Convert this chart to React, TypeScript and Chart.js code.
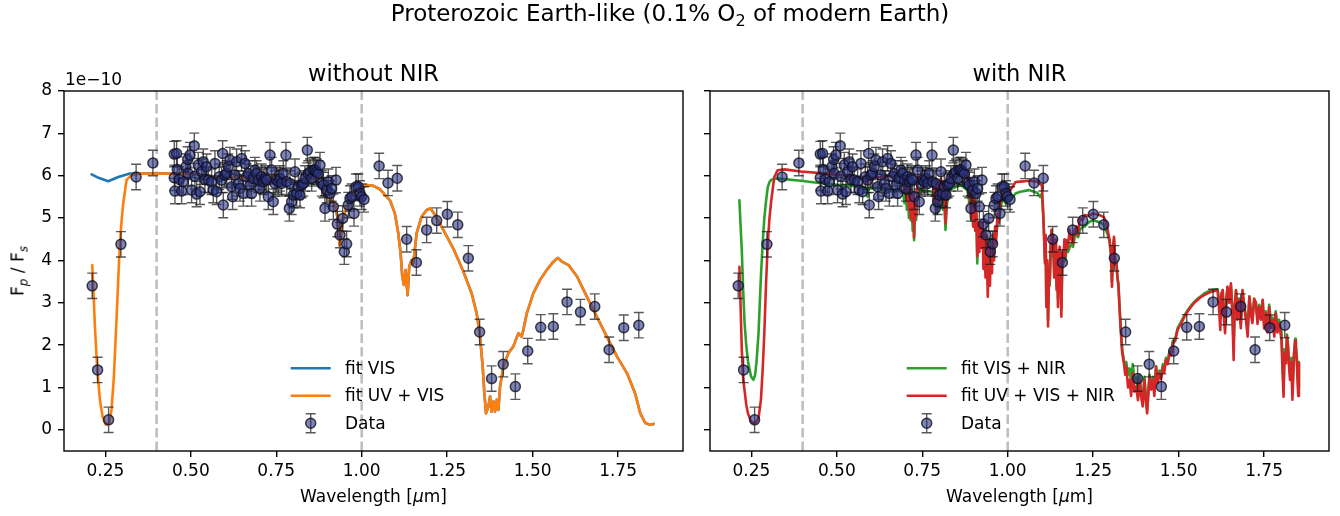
import React, { useEffect, useRef } from "react";
import { Chart, registerables } from "chart.js";
Chart.register(...registerables);

const FONT = '"DejaVu Sans", sans-serif';

// ---------- data (flux ratio in units of 1e-10) ----------
const DATA_WL = [
  0.2115, 0.2273, 0.2595, 0.2955, 0.340, 0.389,
  0.4516, 0.4584, 0.4536, 0.4516, 0.4604, 0.4662, 0.4731, 0.4779, 0.4857, 0.4906,
  0.4975, 0.4926, 0.5023, 0.5101, 0.5121, 0.5170, 0.5267, 0.5218, 0.5316, 0.5365,
  0.5413, 0.5462, 0.5511, 0.5609, 0.5657, 0.5706, 0.5755, 0.5833, 0.5901, 0.5931,
  0.5950, 0.5999, 0.6048, 0.6096, 0.6145, 0.6194, 0.6223, 0.6291, 0.6340, 0.6389,
  0.6438, 0.6487, 0.6535, 0.6584, 0.6633, 0.6682, 0.6730, 0.6779, 0.6828, 0.6877,
  0.6926, 0.6974, 0.7023, 0.7072, 0.7121, 0.7169, 0.7218, 0.7267, 0.7316, 0.7365,
  0.7413, 0.7462, 0.7511, 0.7560, 0.7609, 0.7657, 0.7706, 0.7784, 0.7804, 0.7882,
  0.7901, 0.7950, 0.7999, 0.8048, 0.8096, 0.8145, 0.8194, 0.8243, 0.8292, 0.8340,
  0.8409, 0.8438, 0.8487, 0.8536, 0.8585, 0.8633, 0.8682, 0.8731, 0.8779, 0.8828,
  0.8877, 0.8926, 0.8975, 0.9024, 0.9072, 0.9121, 0.9170, 0.9248, 0.9287, 0.9364,
  0.9443, 0.9491, 0.9559, 0.9608, 0.9657, 0.9706, 0.9774, 0.9832, 0.9901, 0.9950,
  0.9999, 1.0067,
  1.051, 1.077, 1.104, 1.1316, 1.160, 1.190, 1.2194, 1.2505, 1.281, 1.312, 1.345,
  1.380, 1.414, 1.4495, 1.4857, 1.5238, 1.5607, 1.6008, 1.640, 1.6818, 1.7237,
  1.7667, 1.8106,
];
const DATA_FLUX = [
  3.40, 1.415, 0.236, 4.38, 5.97, 6.30,
  6.51, 6.525, 5.637, 5.951, 6.148, 5.912, 5.637, 5.857, 6.211, 6.384,
  6.486, 6.053, 5.660, 6.706, 5.99, 5.566, 5.621, 6.25, 6.093, 6.329,
  5.912, 6.211, 5.896, 5.857, 5.660, 6.29, 5.621, 5.975, 5.896, 6.525,
  5.307, 6.014, 6.053, 6.211, 6.368, 5.739, 5.503, 6.014, 6.329, 5.818,
  5.700, 6.407, 5.582, 6.29, 5.975, 6.053, 5.778, 5.582, 5.936, 6.132,
  6.053, 5.896, 5.700, 5.975, 5.857, 5.936, 5.896, 5.503, 6.486, 6.132,
  5.385, 5.818, 5.896, 5.857, 5.936, 5.818, 6.053, 6.486, 5.857, 5.228,
  5.818, 5.385, 5.542, 6.093, 5.582, 5.739, 5.542, 5.778, 5.818, 5.936,
  6.604, 6.053, 6.093, 5.936, 6.132, 6.132, 6.093, 6.053, 6.25, 5.818,
  5.778, 5.228, 5.660, 5.857, 5.582, 5.700, 5.267, 5.896, 4.858, 4.599,
  4.992, 4.206, 4.387, 5.307, 5.464, 5.503, 5.110, 5.739, 5.739, 5.582,
  5.503, 5.440,
  6.23, 5.83, 5.94, 4.50, 3.95, 4.72, 4.94, 5.09, 4.84, 4.05, 2.31,
  1.21, 1.55, 1.02, 1.86, 2.42, 2.44, 3.02, 2.78, 2.91, 1.89,
  2.41, 2.47,
];
const DATA_ERR = 0.3; // half-length of every error bar

// fit UV + VIS (left panel, orange)
const FIT_LEFT_WL = [
  0.2117, 0.2146, 0.2195, 0.2263, 0.2341, 0.242, 0.2515, 0.2613, 0.268, 0.275,
  0.283, 0.2906, 0.296, 0.3023, 0.3121, 0.3267, 0.351, 0.41, 0.488, 0.5365,
  0.5853, 0.60, 0.624, 0.64, 0.6633, 0.7023, 0.722, 0.741, 0.761, 0.80,
  0.8145, 0.825, 0.839, 0.858, 0.878, 0.8926, 0.9072, 0.922, 0.9287, 0.935,
  0.9413, 0.946, 0.956, 0.9706, 0.9852, 1.0, 1.0145, 1.034, 1.0535, 1.0827,
  1.097, 1.107, 1.1138, 1.1187, 1.1235, 1.1284, 1.1343, 1.139, 1.146, 1.151,
  1.1606, 1.175, 1.19, 1.201, 1.2144, 1.2388, 1.2681, 1.2974, 1.3218, 1.3364,
  1.3462, 1.354, 1.3589, 1.3637, 1.3706, 1.3755, 1.38, 1.385, 1.39, 1.395,
  1.3999, 1.4048, 1.4145, 1.4291, 1.4437, 1.4584, 1.468, 1.473, 1.483, 1.502,
  1.522, 1.541, 1.561, 1.574, 1.586, 1.605, 1.63, 1.659, 1.688, 1.717,
  1.747, 1.776, 1.80, 1.815, 1.83, 1.844, 1.854,
];
const FIT_UVVIS = [
  3.89, 3.38, 2.44, 1.42, 0.71, 0.31, 0.12, 0.16, 0.47, 1.26,
  2.67, 4.09, 4.80, 5.35, 5.90, 6.02, 6.05, 6.05, 6.05, 6.01,
  5.97, 5.96, 5.97, 5.99, 5.91, 5.90, 5.86, 6.01, 5.98, 5.82,
  5.74, 5.80, 5.90, 5.94, 5.78, 5.54, 5.42, 5.34, 5.03, 4.36,
  4.72, 5.03, 5.26, 5.54, 5.66, 5.70, 5.78, 5.76, 5.68, 5.42,
  5.11, 4.64, 4.17, 3.62, 3.42, 3.77, 3.18, 3.85, 4.01, 3.93,
  4.64, 5.03, 5.19, 5.23, 5.07, 4.72, 4.28, 3.74, 3.22, 2.75,
  2.20, 1.49, 0.86, 0.39, 0.55, 0.79, 0.43, 0.67, 0.43, 0.71,
  0.47, 1.02, 1.49, 1.81, 1.97, 2.28, 2.20, 2.36, 2.75, 3.22,
  3.54, 3.77, 3.97, 4.06, 3.97, 3.89, 3.62, 3.14, 2.67, 2.20,
  1.73, 1.34, 0.86, 0.39, 0.16, 0.12, 0.14,
];
// fit VIS (left panel, blue): its own UV part, then identical to the orange fit from 0.351 µm
const FIT_VIS_UV_WL = [0.2097, 0.23, 0.2585, 0.2878, 0.322];
const FIT_VIS_UV = [6.03, 5.95, 5.87, 5.97, 6.05];
const FIT_VIS_JOIN = 0.351;

// right panel: fit VIS + NIR (green) and fit UV + VIS + NIR (red)
const FIT_RIGHT_WL = [
  0.215, 0.218, 0.222, 0.226, 0.230, 0.235, 0.240, 0.249, 0.256, 0.261,
  0.265, 0.271, 0.278, 0.283, 0.288, 0.293, 0.298, 0.303, 0.308, 0.317,
  0.327, 0.347, 0.395, 0.454, 0.512, 0.570, 0.585, 0.590, 0.594, 0.629,
  0.650, 0.668, 0.687, 0.694, 0.698, 0.701, 0.705, 0.708, 0.711, 0.714,
  0.716, 0.719, 0.722, 0.724, 0.726, 0.729, 0.732, 0.735, 0.738, 0.760,
  0.780, 0.785, 0.789, 0.793, 0.797, 0.801, 0.805, 0.810, 0.814, 0.818,
  0.822, 0.828, 0.845, 0.862, 0.882, 0.887, 0.890, 0.893, 0.896, 0.899,
  0.902, 0.905, 0.908, 0.911, 0.914, 0.917, 0.920, 0.923, 0.926, 0.929,
  0.932, 0.935, 0.938, 0.9416, 0.945, 0.948, 0.951, 0.954, 0.957, 0.960,
  0.963, 0.966, 0.970, 0.974, 0.979, 0.984, 0.994, 1.008, 1.023, 1.037,
  1.062, 1.086, 1.095, 1.100, 1.104, 1.107, 1.109, 1.111, 1.113, 1.116,
  1.118, 1.121, 1.123, 1.126, 1.128, 1.131, 1.133, 1.136, 1.138, 1.141,
  1.143, 1.145, 1.147, 1.150, 1.152, 1.155, 1.157, 1.160, 1.162, 1.166,
  1.169, 1.172, 1.176, 1.181, 1.186, 1.191, 1.196, 1.201, 1.206, 1.211,
  1.218, 1.225, 1.237, 1.250, 1.269, 1.281, 1.288, 1.293, 1.298, 1.302,
  1.305, 1.308, 1.311, 1.315, 1.318, 1.321, 1.324, 1.327, 1.330, 1.335,
  1.340, 1.344, 1.347, 1.352, 1.357, 1.361, 1.366, 1.371, 1.376, 1.381,
  1.386, 1.390, 1.395, 1.400, 1.404, 1.408, 1.412, 1.415, 1.420, 1.425,
  1.429, 1.434, 1.439, 1.444, 1.449, 1.454, 1.458, 1.463, 1.468, 1.473,
  1.478, 1.483, 1.490, 1.497, 1.507, 1.517, 1.527, 1.536, 1.546, 1.556,
  1.566, 1.575, 1.585, 1.595, 1.605, 1.614, 1.618, 1.622, 1.625, 1.629,
  1.632, 1.636, 1.640, 1.643, 1.648, 1.653, 1.657, 1.661, 1.664, 1.668,
  1.672, 1.677, 1.682, 1.687, 1.692, 1.697, 1.702, 1.707, 1.712, 1.716,
  1.721, 1.726, 1.731, 1.736, 1.741, 1.746, 1.750, 1.755, 1.760, 1.765,
  1.770, 1.775, 1.780, 1.784, 1.789, 1.794, 1.801, 1.804, 1.807, 1.810,
  1.814, 1.817, 1.820, 1.823, 1.826, 1.830, 1.833, 1.836, 1.838, 1.841,
  1.843, 1.846, 1.848, 1.850, 1.852,
];
const FIT_UVVISNIR = [
  3.85, 3.07, 1.89, 1.20, 0.94, 0.60, 0.39, 0.20, 0.16, 0.16,
  0.20, 0.28, 0.71, 1.40, 2.30, 3.46, 4.40, 5.00, 5.40, 5.97,
  6.13, 6.15, 6.10, 6.06, 6.01, 5.96, 5.95, 5.80, 5.95, 5.97,
  5.99, 6.00, 5.99, 5.90, 5.60, 5.95, 5.40, 5.85, 5.20, 5.80,
  5.00, 5.60, 4.90, 5.50, 4.55, 5.40, 5.05, 5.70, 5.97, 5.98,
  5.97, 5.40, 5.90, 5.20, 5.85, 5.40, 5.93, 5.50, 5.80, 4.87,
  5.60, 5.97, 6.02, 6.06, 5.97, 5.50, 5.80, 5.00, 5.60, 4.80,
  5.50, 4.70, 5.30, 4.10, 4.90, 4.20, 4.90, 4.30, 4.90, 3.80,
  4.70, 3.60, 4.60, 3.14, 4.30, 3.40, 4.40, 3.70, 4.60, 4.00,
  4.80, 4.40, 5.10, 4.90, 5.40, 5.55, 5.66, 5.66, 5.85, 5.86,
  5.88, 5.86, 5.80, 5.78, 5.11, 4.40, 3.93, 4.60, 2.90, 4.00,
  2.44, 3.80, 3.54, 4.50, 4.72, 4.20, 4.60, 3.60, 4.32, 4.50,
  3.30, 4.20, 2.90, 4.00, 4.32, 3.50, 2.67, 4.20, 3.93, 4.50,
  4.10, 4.48, 4.30, 4.72, 4.50, 4.40, 4.70, 4.80, 4.60, 5.00,
  4.95, 5.07, 5.05, 5.11, 5.07, 5.02, 4.91, 4.70, 4.48, 4.20,
  3.38, 4.30, 4.56, 3.90, 3.93, 3.60, 3.38, 2.90, 2.44, 1.81,
  1.57, 1.30, 1.49, 1.00, 1.18, 0.80, 1.34, 0.90, 1.02, 0.70,
  1.18, 0.80, 0.55, 1.18, 0.70, 0.39, 0.90, 1.26, 0.95, 1.18,
  0.80, 1.49, 1.10, 1.34, 1.20, 1.49, 1.35, 1.65, 1.55, 1.81,
  1.75, 2.04, 2.10, 2.36, 2.50, 2.67, 2.80, 2.90, 3.00, 3.07,
  3.14, 3.18, 3.22, 3.26, 3.28, 3.30, 2.90, 2.36, 3.20, 3.30,
  2.70, 2.28, 3.10, 3.38, 3.00, 3.46, 2.80, 1.65, 2.90, 3.30,
  2.60, 3.07, 2.40, 3.30, 2.90, 2.59, 2.20, 3.14, 2.70, 2.52,
  3.10, 2.99, 2.50, 2.90, 2.60, 3.07, 2.40, 2.75, 2.30, 2.90,
  2.40, 2.59, 2.20, 2.75, 2.30, 2.52, 2.12, 1.40, 0.78, 1.80,
  1.57, 2.20, 1.97, 1.50, 1.18, 1.60, 0.71, 1.40, 1.81, 2.10,
  1.97, 1.60, 1.18, 0.80, 1.57,
];
const FIT_VISNIR = [
  5.42, 4.90, 4.25, 3.30, 2.55, 2.00, 1.62, 1.26, 1.18, 1.30,
  1.60, 2.28, 3.62, 4.40, 5.00, 5.40, 5.73, 5.85, 5.90, 5.93,
  5.93, 5.92, 5.88, 5.82, 5.78, 5.74, 5.72, 5.50, 5.70, 5.70,
  5.64, 5.62, 5.65, 5.60, 5.35, 5.62, 5.20, 5.55, 5.00, 5.50,
  4.95, 5.35, 4.70, 5.30, 4.48, 5.20, 4.95, 5.45, 5.66, 5.64,
  5.62, 5.30, 5.55, 5.10, 5.50, 5.25, 5.52, 5.20, 5.45, 4.72,
  5.30, 5.66, 5.72, 5.78, 5.66, 5.40, 5.55, 4.95, 5.40, 4.80,
  5.30, 4.70, 5.10, 3.93, 4.80, 4.30, 4.90, 4.40, 4.80, 4.20,
  4.70, 4.20, 4.60, 4.20, 4.50, 4.30, 4.50, 4.36, 4.60, 4.59,
  4.70, 4.60, 4.85, 4.90, 5.20, 5.46, 5.35, 5.43, 5.58, 5.62,
  5.66, 5.60, 5.50, 5.58, 5.05, 4.50, 4.00, 4.50, 3.00, 3.90,
  2.60, 3.70, 3.40, 4.30, 4.50, 4.10, 4.30, 3.70, 4.20, 4.40,
  3.40, 4.10, 3.10, 3.90, 4.20, 3.60, 2.90, 4.00, 3.90, 4.30,
  4.00, 4.35, 4.20, 4.30, 4.40, 4.32, 4.55, 4.60, 4.55, 4.72,
  4.78, 4.80, 4.90, 4.95, 4.90, 4.85, 4.70, 4.60, 4.45, 4.10,
  3.50, 4.25, 4.50, 3.90, 4.00, 3.60, 3.45, 2.95, 2.50, 1.90,
  1.65, 1.50, 1.60, 1.30, 1.45, 1.10, 1.55, 1.15, 1.25, 0.90,
  1.30, 0.95, 0.70, 1.25, 0.80, 0.50, 1.00, 1.30, 1.05, 1.25,
  0.90, 1.50, 1.20, 1.40, 1.30, 1.55, 1.45, 1.70, 1.60, 1.85,
  1.80, 2.10, 2.15, 2.40, 2.55, 2.70, 2.83, 2.93, 3.02, 3.10,
  3.16, 3.22, 3.26, 3.30, 3.31, 3.32, 3.10, 2.80, 3.20, 3.30,
  2.90, 2.60, 3.10, 3.35, 3.05, 3.40, 2.90, 2.00, 2.90, 3.28,
  2.70, 3.10, 2.50, 3.25, 2.95, 2.70, 2.40, 3.15, 2.80, 2.60,
  3.05, 3.02, 2.60, 2.95, 2.70, 3.05, 2.50, 2.80, 2.45, 2.95,
  2.55, 2.65, 2.40, 2.80, 2.45, 2.60, 2.30, 1.60, 1.00, 1.90,
  1.65, 2.25, 2.00, 1.60, 1.30, 1.70, 0.90, 1.50, 1.85, 2.15,
  2.00, 1.70, 1.30, 1.00, 1.60,
];

const X_TICKS = [0.25, 0.5, 0.75, 1.0, 1.25, 1.5, 1.75];
const Y_TICKS = [0, 1, 2, 3, 4, 5, 6, 7, 8];
const VLINES = [0.4, 1.0];
const X_MIN = 0.129;
const X_MAX = 1.94;
const Y_MIN = -0.5;
const Y_MAX = 8;

// ---------- styles ----------
const C_BLUE = "#1f77b4";
const C_ORANGE = "#ff7f0e";
const C_GREEN = "#2ca02c";
const C_RED = "#d62728";
const MARKER_FACE = "rgba(40,50,130,0.6)";
const MARKER_EDGE = "rgba(15,15,30,0.78)";
const ERR_COLOR = "rgba(25,25,25,0.72)";
const LW = 2.6;

const pts = (xs: number[], ys: number[]) => xs.map((x, i) => ({ x, y: ys[i] }));

type LegendEntry = { label: string; color?: string; marker?: boolean };
type PanelCfg = {
  lines: { label: string; color: string; data: { x: number; y: number }[]; order: number }[];
  yAxisWidth: number;
  padRight: number;
  showYLabels: boolean;
  legend: { x0: number; x1: number; textX: number; rows: number[]; entries: LegendEntry[] };
};

function makeChart(canvas: HTMLCanvasElement, cfg: PanelCfg) {
  const dataPts = pts(DATA_WL, DATA_FLUX);
  const decor = {
    id: "decor",
    beforeDatasetsDraw(chart: any) {
      const { ctx, chartArea: a, scales } = chart;
      ctx.save();
      ctx.beginPath();
      ctx.rect(a.left, a.top, a.right - a.left, a.bottom - a.top);
      ctx.clip();
      ctx.strokeStyle = "rgba(128,128,128,0.5)";
      ctx.lineWidth = LW;
      ctx.setLineDash([9.4, 4.1]);
      for (const w of VLINES) {
        const px = scales.x.getPixelForValue(w);
        ctx.beginPath();
        ctx.moveTo(px, a.bottom);
        ctx.lineTo(px, a.top);
        ctx.stroke();
      }
      ctx.restore();
    },
    beforeDatasetDraw(chart: any, args: any) {
      if (args.meta.label !== "Data") return;
      const { ctx, chartArea: a, scales } = chart;
      ctx.save();
      ctx.beginPath();
      ctx.rect(a.left, a.top, a.right - a.left, a.bottom - a.top);
      ctx.clip();
      ctx.strokeStyle = ERR_COLOR;
      ctx.lineWidth = 1.4;
      for (let i = 0; i < DATA_WL.length; i++) {
        const px = scales.x.getPixelForValue(DATA_WL[i]);
        const y1 = scales.y.getPixelForValue(DATA_FLUX[i] - DATA_ERR);
        const y2 = scales.y.getPixelForValue(DATA_FLUX[i] + DATA_ERR);
        ctx.beginPath();
        ctx.moveTo(px, y1);
        ctx.lineTo(px, y2);
        ctx.moveTo(px - 5, y1);
        ctx.lineTo(px + 5, y1);
        ctx.moveTo(px - 5, y2);
        ctx.lineTo(px + 5, y2);
        ctx.stroke();
      }
      ctx.restore();
    },
    afterDraw(chart: any) {
      const { ctx, chartArea: a } = chart;
      ctx.save();
      ctx.strokeStyle = "#000";
      ctx.lineWidth = 1.4;
      ctx.strokeRect(a.left, a.top, a.right - a.left, a.bottom - a.top);
      // legend
      const L = cfg.legend;
      ctx.font = `17px ${FONT}`;
      ctx.textBaseline = "middle";
      ctx.textAlign = "left";
      L.entries.forEach((e, i) => {
        const yy = L.rows[i];
        if (e.marker) {
          const cx = (L.x0 + L.x1) / 2;
          ctx.strokeStyle = ERR_COLOR;
          ctx.lineWidth = 1.4;
          ctx.beginPath();
          ctx.moveTo(cx, yy - 9.5);
          ctx.lineTo(cx, yy + 9.5);
          ctx.moveTo(cx - 5, yy - 9.5);
          ctx.lineTo(cx + 5, yy - 9.5);
          ctx.moveTo(cx - 5, yy + 9.5);
          ctx.lineTo(cx + 5, yy + 9.5);
          ctx.stroke();
          ctx.beginPath();
          ctx.arc(cx, yy, 5, 0, Math.PI * 2);
          ctx.fillStyle = MARKER_FACE;
          ctx.fill();
          ctx.strokeStyle = MARKER_EDGE;
          ctx.lineWidth = 1.5;
          ctx.stroke();
        } else {
          ctx.strokeStyle = e.color!;
          ctx.lineWidth = LW;
          ctx.beginPath();
          ctx.moveTo(L.x0, yy);
          ctx.lineTo(L.x1, yy);
          ctx.stroke();
        }
        ctx.fillStyle = "#000";
        ctx.fillText(e.label, L.textX, yy + 1);
      });
      ctx.restore();
    },
  };

  const tickFont = { family: FONT, size: 17 };
  const gridCommon = {
    display: true,
    drawOnChartArea: false,
    drawTicks: true,
    tickLength: 6,
    color: "#000",
    lineWidth: 1.4,
  };

  return new Chart(canvas, {
    type: "line",
    data: {
      datasets: [
        {
          label: "Data",
          data: dataPts,
          showLine: false,
          pointRadius: 5,
          pointHoverRadius: 5,
          pointBackgroundColor: MARKER_FACE,
          pointBorderColor: MARKER_EDGE,
          pointBorderWidth: 1.5,
          order: 0,
        } as any,
        ...cfg.lines.map((l) => ({
          label: l.label,
          data: l.data,
          borderColor: l.color,
          borderWidth: LW,
          pointRadius: 0,
          pointHoverRadius: 0,
          tension: 0,
          borderJoinStyle: "round",
          borderCapStyle: "round",
          fill: false,
          order: l.order,
        })),
      ],
    },
    options: {
      responsive: false,
      animation: false,
      events: [],
      layout: { padding: { top: 91, left: 0, right: cfg.padRight, bottom: 0 } },
      plugins: { legend: { display: false }, tooltip: { enabled: false }, title: { display: false } },
      scales: {
        x: {
          type: "linear",
          min: X_MIN,
          max: X_MAX,
          afterBuildTicks: (s: any) => {
            s.ticks = X_TICKS.map((v) => ({ value: v }));
          },
          afterFit: (s: any) => {
            s.height = 65;
          },
          grid: gridCommon,
          border: { display: false },
          ticks: {
            color: "#000",
            font: tickFont,
            padding: 4,
            maxRotation: 0,
            autoSkip: false,
            callback: (v: any) => Number(v).toFixed(2),
          },
        },
        y: {
          type: "linear",
          min: Y_MIN,
          max: Y_MAX,
          afterBuildTicks: (s: any) => {
            s.ticks = Y_TICKS.map((v) => ({ value: v }));
          },
          afterFit: (s: any) => {
            s.width = cfg.yAxisWidth;
          },
          grid: gridCommon,
          border: { display: false },
          ticks: {
            color: "#000",
            font: tickFont,
            padding: 6,
            autoSkip: false,
            callback: (v: any) => (cfg.showYLabels ? String(v) : ""),
          },
        },
      },
    } as any,
    plugins: [decor as any],
  });
}

const abs = (cx: number, cy: number, size: number, extra: any = {}): React.CSSProperties => ({
  position: "absolute",
  left: cx,
  top: cy,
  transform: "translate(-50%, -50%)",
  fontFamily: FONT,
  fontSize: size,
  lineHeight: 1,
  whiteSpace: "nowrap",
  color: "#000",
  ...extra,
});

const subStyle: React.CSSProperties = { fontSize: "0.7em", position: "relative", top: "0.3em" };

export default function App() {
  const leftRef = useRef<HTMLCanvasElement>(null);
  const rightRef = useRef<HTMLCanvasElement>(null);

  useEffect(() => {
    const joinIdx = FIT_LEFT_WL.indexOf(FIT_VIS_JOIN);
    const visData = pts(
      [...FIT_VIS_UV_WL, ...FIT_LEFT_WL.slice(joinIdx)],
      [...FIT_VIS_UV, ...FIT_UVVIS.slice(joinIdx)]
    );
    const c1 = makeChart(leftRef.current!, {
      lines: [
        { label: "fit VIS", color: C_BLUE, data: visData, order: 2 },
        { label: "fit UV + VIS", color: C_ORANGE, data: pts(FIT_LEFT_WL, FIT_UVVIS), order: 1 },
      ],
      yAxisWidth: 64,
      padRight: 14,
      showYLabels: true,
      legend: {
        x0: 290.7,
        x1: 330.7,
        textX: 345,
        rows: [368.3, 395.7, 423.3],
        entries: [
          { label: "fit VIS", color: C_BLUE },
          { label: "fit UV + VIS", color: C_ORANGE },
          { label: "Data", marker: true },
        ],
      },
    });
    const c2 = makeChart(rightRef.current!, {
      lines: [
        { label: "fit VIS + NIR", color: C_GREEN, data: pts(FIT_RIGHT_WL, FIT_VISNIR), order: 2 },
        { label: "fit UV + VIS + NIR", color: C_RED, data: pts(FIT_RIGHT_WL, FIT_UVVISNIR), order: 1 },
      ],
      yAxisWidth: 13,
      padRight: 11,
      showYLabels: false,
      legend: {
        x0: 209.7,
        x1: 249.7,
        textX: 264,
        rows: [368.3, 395.7, 423.3],
        entries: [
          { label: "fit VIS + NIR", color: C_GREEN },
          { label: "fit UV + VIS + NIR", color: C_RED },
          { label: "Data", marker: true },
        ],
      },
    });
    return () => {
      c1.destroy();
      c2.destroy();
    };
  }, []);

  return (
    <div style={{ position: "fixed", left: 0, top: 0, width: 1340, height: 516, background: "#fff", overflow: "hidden" }}>
      <canvas ref={leftRef} width={697} height={516} style={{ position: "absolute", left: 0, top: 0 }} />
      <canvas ref={rightRef} width={643} height={516} style={{ position: "absolute", left: 697, top: 0 }} />
      <div style={abs(670, 13, 23)}>
        Proterozoic Earth-like (0.1% O<span style={subStyle}>2</span> of modern Earth)
      </div>
      <div style={abs(373.5, 73, 22.5)}>without NIR</div>
      <div style={abs(1019.5, 73, 22.5)}>with NIR</div>
      <div style={{ ...abs(65, 79, 17), transform: "translate(0, -50%)" }}>1e−10</div>
      <div style={{ ...abs(18, 271, 17), transform: "translate(-50%, -50%) rotate(-90deg)" }}>
        F<span style={{ ...subStyle, fontStyle: "italic" }}>p</span> / F
        <span style={{ ...subStyle, fontStyle: "italic" }}>s</span>
      </div>
      <div style={abs(373.5, 496, 17)}>
        Wavelength [<span style={{ fontStyle: "italic" }}>μ</span>m]
      </div>
      <div style={abs(1019.5, 496, 17)}>
        Wavelength [<span style={{ fontStyle: "italic" }}>μ</span>m]
      </div>
    </div>
  );
}
